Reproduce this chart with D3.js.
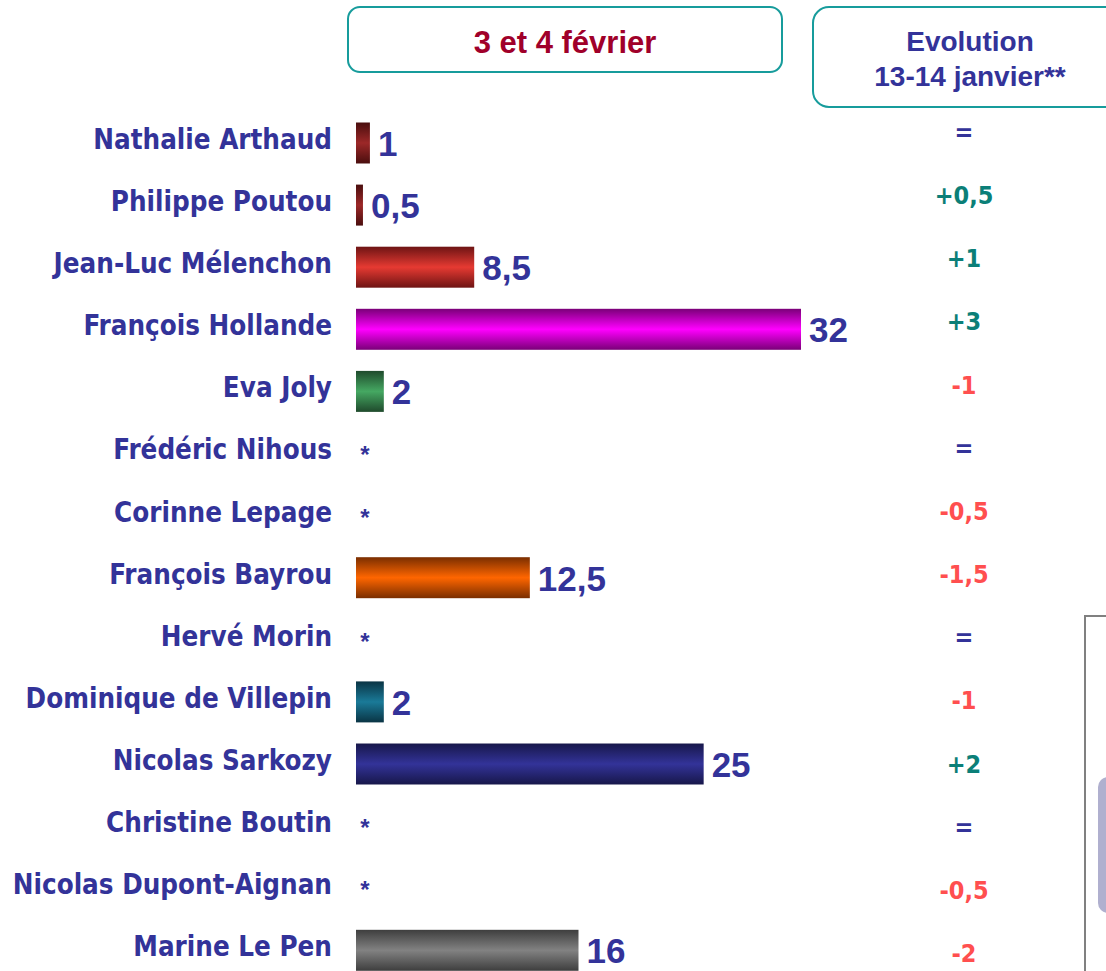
<!DOCTYPE html>
<html>
<head>
<meta charset="utf-8">
<script src="https://cdn.jsdelivr.net/npm/d3@7"></script>
<style>
  body { margin: 0; background: #fff; }
  .name { font-family: "DejaVu Sans Condensed", "DejaVu Sans", sans-serif; font-stretch: condensed; font-weight: bold; font-size: 27.5px; fill: #333399; }
  .value { font-family: "Liberation Sans", Arial, sans-serif; font-weight: bold; font-size: 35px; fill: #333399; }
  .evol { font-family: "DejaVu Sans Condensed", "DejaVu Sans", sans-serif; font-stretch: condensed; font-weight: bold; font-size: 25px; }
  .head { font-family: "Liberation Sans", Arial, sans-serif; font-weight: bold; }
</style>
</head>
<body>
<div class="chart"></div>
<script>
// data
const candidates = ["Nathalie Arthaud", "Philippe Poutou", "Jean-Luc Mélenchon", "François Hollande",
  "Eva Joly", "Frédéric Nihous", "Corinne Lepage", "François Bayrou", "Hervé Morin",
  "Dominique de Villepin", "Nicolas Sarkozy", "Christine Boutin", "Nicolas Dupont-Aignan", "Marine Le Pen"];
const scores = [1, 0.5, 8.5, 32, 2, null, null, 12.5, null, 2, 25, null, null, 16]; // null = "*"
const evolutions = ["=", "+0,5", "+1", "+3", "-1", "=", "-0,5", "-1,5", "=", "-1", "+2", "=", "-0,5", "-2"];
// [edge colour, middle colour] for each bar gradient
const barColors = [
  ["#4a0e0e", "#9c2828"], ["#4a0e0e", "#9c2828"], ["#6e1414", "#e63a32"], ["#7a0078", "#ff00ff"],
  ["#1f4a2c", "#45a862"], null, null, ["#7a2e00", "#ff6600"], null,
  ["#0a3444", "#1a7a98"], ["#17174a", "#333399"], null, null, ["#3e3e3e", "#828282"]
];

const rows = candidates.map((c, i) => ({ name: c, score: scores[i], evol: evolutions[i], colors: barColors[i], idx: i }));

const svg = d3.select(".chart")
  .append("svg")
  .attr("width", 1106)
  .attr("height", 971);

const defs = svg.append("defs");
rows.filter(d => d.colors).forEach(d => {
  const g = defs.append("linearGradient")
    .attr("id", "grad" + d.idx)
    .attr("x1", 0).attr("y1", 0).attr("x2", 0).attr("y2", 1);
  g.append("stop").attr("offset", "0%").attr("stop-color", d.colors[0]);
  g.append("stop").attr("offset", "50%").attr("stop-color", d.colors[1]);
  g.append("stop").attr("offset", "100%").attr("stop-color", d.colors[0]);
});

const xScale = d3.scaleLinear()
  .domain([0, d3.max(scores)])
  .range([356, 801]);

const yScale = d3.scaleBand()
  .domain(candidates)
  .range([122.5, 970.8])
  .paddingInner(0.34)
  .paddingOuter(0);

// the evolution column is spaced a little wider than the bars
const yEvol = d3.scalePoint()
  .domain(candidates)
  .range([132, 953]);

const bw = yScale.bandwidth();
const mid = d => yScale(d.name) + bw / 2;

// header boxes
svg.append("rect")
  .attr("x", 348).attr("y", 7).attr("width", 434).attr("height", 65)
  .attr("rx", 12).attr("fill", "none").attr("stroke", "#179c9c").attr("stroke-width", 2);
svg.append("text").attr("class", "head")
  .attr("x", 565).attr("y", 53).attr("text-anchor", "middle")
  .attr("font-size", 31).attr("fill", "#a0002a")
  .text("3 et 4 février");

svg.append("rect")
  .attr("x", 813).attr("y", 7).attr("width", 320).attr("height", 100)
  .attr("rx", 16).attr("fill", "none").attr("stroke", "#179c9c").attr("stroke-width", 2);
svg.append("text").attr("class", "head")
  .attr("x", 970).attr("y", 51).attr("text-anchor", "middle")
  .attr("font-size", 28).attr("fill", "#333399")
  .text("Evolution");
svg.append("text").attr("class", "head")
  .attr("x", 970).attr("y", 86).attr("text-anchor", "middle")
  .attr("font-size", 28).attr("fill", "#333399")
  .text("13-14 janvier**");

// bottom right leftover frame
svg.append("path")
  .attr("d", "M1110,616 H1085 V975")
  .attr("fill", "none").attr("stroke", "#808080").attr("stroke-width", 2);
svg.append("rect")
  .attr("x", 1098).attr("y", 777).attr("width", 30).attr("height", 136)
  .attr("rx", 10).attr("fill", "#b0b0cf");

const row = svg.selectAll("g.row")
  .data(rows)
  .join("g")
  .attr("class", "row");

row.append("text")
  .attr("class", "name")
  .attr("x", 332)
  .attr("y", d => mid(d) + 6)
  .attr("text-anchor", "end")
  .text(d => d.name);

row.filter(d => d.score != null).append("rect")
  .attr("x", xScale(0))
  .attr("y", d => yScale(d.name))
  .attr("width", d => xScale(d.score) - xScale(0))
  .attr("height", bw)
  .attr("fill", d => `url(#grad${d.idx})`);

row.filter(d => d.score != null).append("text")
  .attr("class", "value")
  .attr("x", d => xScale(d.score) + 8)
  .attr("y", d => mid(d) + 13)
  .text(d => String(d.score).replace(".", ","));

row.filter(d => d.score == null).append("text")
  .attr("class", "value")
  .attr("x", 365)
  .attr("y", d => mid(d) + 10)
  .attr("text-anchor", "middle")
  .style("font-size", "24px")
  .text("*");

row.append("text")
  .attr("class", "evol")
  .attr("x", 964)
  .attr("y", d => yEvol(d.name) + 9)
  .attr("text-anchor", "middle")
  .attr("fill", d => d.evol === "=" ? "#333399" : d.evol[0] === "+" ? "#0b7f78" : "#ff4f4f")
  .text(d => d.evol);
</script>
</body>
</html>
